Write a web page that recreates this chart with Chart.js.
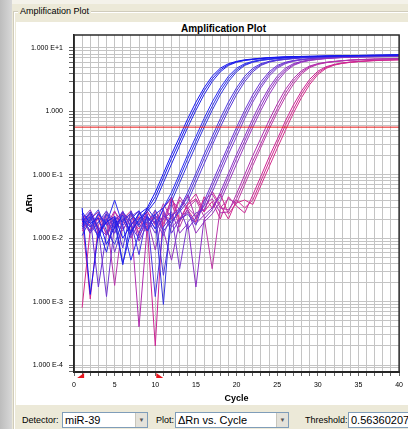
<!DOCTYPE html>
<html><head><meta charset="utf-8">
<script src="https://cdn.jsdelivr.net/npm/chart.js@4.4.1/dist/chart.umd.min.js"></script>
<style>
html,body{margin:0;padding:0;width:408px;height:429px;overflow:hidden;background:#ece9d8;font-family:'Liberation Sans',Arial,sans-serif;}
#leftstrip{position:absolute;left:0;top:0;width:12px;height:429px;background:linear-gradient(to right,#bdbdbd,#d8d8d8);}
#topband{position:absolute;left:12px;top:0;width:396px;height:4px;background:#f4f2ea;}
#group{position:absolute;left:13px;top:11px;width:420px;height:430px;border-top:1px solid #d0ccbc;border-left:1px solid #d0ccbc;box-shadow:inset 1px 1px 0 #fff;}
#grouplabel{position:absolute;left:18px;top:5px;padding:0 2px;background:#ece9d8;font-size:9px;line-height:12px;color:#000;}
#panel{position:absolute;left:16px;top:22px;width:392px;height:383px;background:#fff;}
#title{position:absolute;left:16px;width:415px;top:23px;text-align:center;font-weight:bold;font-size:10px;line-height:12px;color:#000;}
#chart{position:absolute;left:16px;top:22px;}
.lbl{position:absolute;top:414px;font-size:9px;line-height:12px;color:#000;}
.combo{position:absolute;top:412px;height:16px;box-sizing:border-box;border:1px solid #7f9db9;background:#fff;font-size:11px;line-height:14px;padding-left:2px;color:#000;overflow:hidden;white-space:nowrap;}
.btn{position:absolute;right:0;top:0;width:11px;height:14px;background:#e4e2da;border-left:1px solid #c8c6bc;font-size:6px;line-height:14px;text-align:center;color:#555;}
</style>
</head><body>
<div id="leftstrip"></div>
<div id="topband"></div>
<div id="group"></div>
<div id="grouplabel">Amplification Plot</div>
<div id="panel"></div>
<div id="title">Amplification Plot</div>
<canvas id="chart" width="392" height="382" style="width:392px;height:382px"></canvas>
<div class="lbl" style="left:22px">Detector:</div>
<div class="combo" style="left:62px;width:86px">miR-39<div class="btn">▼</div></div>
<div class="lbl" style="left:156px">Plot:</div>
<div class="combo" style="left:175px;width:114px">ΔRn vs. Cycle<div class="btn">▼</div></div>
<div class="lbl" style="left:305px">Threshold:</div>
<div class="combo" style="left:348px;width:70px">0.56360207</div>
<script>
// ---- data ----
const cycles = [1,2,3,4,5,6,7,8,9,10,11,12,13,14,15,16,17,18,19,20,21,22,23,24,25,26,27,28,29,30,31,32,33,34,35,36,37,38,39,40];
const threshold = 0.56360207;
const baselineStart = 1;
const baselineEnd = 10;
const xTickLabels = ['0','5','10','15','20','25','30','35','40'];
const yDecades = [1e-4, 1e-3, 1e-2, 1e-1, 1, 10];
const yTickLabels = ['1.000 E-4','1.000 E-3','1.000 E-2','1.000 E-1','1.000','1.000 E+1'];

const w01 = [0.030,0.0013,0.012,0.018,0.022,0.010,0.016,0.024,0.030,0.053,0.105,0.21,0.40,0.77,1.40,2.35,3.58,4.8,5.65,6.15,6.5,6.7,6.9,7.05,7.15,7.25,7.3,7.35,7.38,7.42,7.48,7.52,7.56,7.59,7.62,7.66,7.7,7.72,7.76,7.8];
const w02 = [0.018,0.026,0.014,0.006,0.021,0.004,0.013,0.019,0.026,0.038,0.075,0.148,0.29,0.56,1.04,1.83,2.94,4.2,5.3,5.95,6.35,6.6,6.8,7.0,7.1,7.2,7.3,7.33,7.37,7.4,7.45,7.5,7.53,7.56,7.6,7.63,7.67,7.7,7.73,7.76];
const w15 = [0.026,0.017,0.021,0.008,0.015,0.023,0.012,0.020,0.028,0.045,0.09,0.18,0.34,0.66,1.2,2.1,3.25,4.5,5.45,6.05,6.4,6.6,6.8,6.95,7.05,7.15,7.22,7.28,7.33,7.37,7.42,7.46,7.5,7.53,7.56,7.6,7.63,7.66,7.7,7.73];
const w03 = [0.020,0.015,0.024,0.017,0.040,0.016,0.0045,0.012,0.022,0.014,0.030,0.053,0.105,0.21,0.40,0.77,1.40,2.35,3.58,4.8,5.65,6.15,6.5,6.7,6.9,7.05,7.15,7.25,7.3,7.35,7.38,7.42,7.47,7.5,7.54,7.57,7.6,7.63,7.66,7.7];
const w04 = [0.011,0.020,0.028,0.013,0.008,0.019,0.025,0.016,0.030,0.020,0.0009,0.038,0.075,0.148,0.29,0.56,1.04,1.83,2.94,4.2,5.3,5.95,6.35,6.6,6.8,7.0,7.1,7.2,7.3,7.33,7.37,7.4,7.45,7.5,7.52,7.55,7.58,7.6,7.63,7.66];
const w16 = [0.015,0.022,0.010,0.024,0.018,0.0038,0.020,0.027,0.013,0.024,0.030,0.045,0.09,0.18,0.34,0.66,1.2,2.1,3.25,4.5,5.45,6.05,6.4,6.6,6.8,6.95,7.05,7.15,7.22,7.28,7.33,7.37,7.42,7.46,7.5,7.53,7.56,7.6,7.62,7.65];
const w05 = [0.016,0.023,0.010,0.020,0.012,0.026,0.018,0.0055,0.024,0.0012,0.015,0.022,0.030,0.053,0.105,0.21,0.40,0.77,1.40,2.35,3.58,4.8,5.65,6.15,6.5,6.7,6.9,7.05,7.15,7.25,7.3,7.35,7.38,7.42,7.46,7.5,7.53,7.56,7.6,7.63];
const w06 = [0.024,0.012,0.018,0.027,0.014,0.020,0.011,0.025,0.017,0.028,0.013,0.019,0.026,0.038,0.075,0.148,0.29,0.56,1.04,1.83,2.94,4.2,5.3,5.95,6.35,6.6,6.8,7.0,7.1,7.2,7.3,7.33,7.37,7.4,7.45,7.48,7.52,7.55,7.58,7.6];
const w17 = [0.021,0.013,0.025,0.016,0.020,0.007,0.027,0.015,0.019,0.024,0.0026,0.017,0.028,0.045,0.09,0.18,0.34,0.66,1.2,2.1,3.25,4.5,5.45,6.05,6.4,6.6,6.8,6.95,7.05,7.15,7.22,7.28,7.33,7.37,7.42,7.46,7.5,7.53,7.56,7.6];
const w07 = [0.014,0.021,0.0017,0.012,0.019,0.026,0.015,0.010,0.022,0.017,0.028,0.012,0.020,0.024,0.016,0.038,0.075,0.148,0.29,0.56,1.04,1.83,2.94,4.2,5.3,5.95,6.35,6.6,6.8,7.0,7.1,7.2,7.3,7.33,7.37,7.4,7.45,7.48,7.52,7.55];
const w08 = [0.020,0.013,0.018,0.024,0.006,0.016,0.022,0.027,0.013,0.019,0.011,0.024,0.0033,0.018,0.025,0.028,0.053,0.105,0.21,0.40,0.77,1.40,2.35,3.58,4.8,5.65,6.15,6.5,6.7,6.9,7.05,7.15,7.25,7.3,7.35,7.38,7.42,7.45,7.48,7.52];
const w18 = [0.018,0.024,0.014,0.0012,0.017,0.021,0.013,0.026,0.020,0.012,0.023,0.017,0.029,0.014,0.021,0.033,0.064,0.125,0.25,0.48,0.9,1.6,2.6,3.9,5.05,5.8,6.25,6.55,6.75,6.95,7.08,7.18,7.27,7.31,7.36,7.39,7.43,7.46,7.5,7.53];
const w09 = [0.017,0.025,0.012,0.020,0.015,0.027,0.010,0.018,0.023,0.014,0.020,0.026,0.012,0.017,0.0017,0.020,0.028,0.053,0.105,0.21,0.40,0.77,1.40,2.35,3.58,4.8,5.65,6.15,6.5,6.7,6.9,7.0,7.1,7.18,7.23,7.28,7.32,7.35,7.38,7.42];
const w10 = [0.022,0.016,0.011,0.026,0.019,0.013,0.024,0.017,0.021,0.0065,0.025,0.015,0.020,0.028,0.012,0.018,0.024,0.038,0.075,0.148,0.29,0.56,1.04,1.83,2.94,4.2,5.3,5.95,6.35,6.6,6.8,6.95,7.05,7.12,7.18,7.22,7.26,7.3,7.33,7.36];
const w19 = [0.020,0.028,0.015,0.011,0.022,0.018,0.025,0.009,0.016,0.021,0.013,0.0045,0.019,0.026,0.017,0.023,0.030,0.045,0.09,0.18,0.34,0.66,1.2,2.1,3.25,4.5,5.45,6.05,6.4,6.6,6.8,6.95,7.05,7.13,7.2,7.25,7.29,7.32,7.35,7.38];
const w11 = [0.019,0.012,0.023,0.016,0.027,0.014,0.020,0.0004,0.015,0.022,0.020,0.040,0.028,0.048,0.020,0.033,0.042,0.025,0.026,0.050,0.10,0.20,0.38,0.72,1.3,2.2,3.3,4.4,5.2,5.65,5.95,6.15,6.3,6.45,6.55,6.62,6.68,6.72,6.76,6.8];
const w12 = [0.013,0.020,0.026,0.011,0.018,0.024,0.016,0.021,0.012,0.027,0.017,0.036,0.015,0.030,0.040,0.022,0.0033,0.030,0.042,0.035,0.07,0.14,0.27,0.52,0.96,1.68,2.7,3.9,4.9,5.5,5.85,6.07,6.25,6.4,6.5,6.58,6.64,6.7,6.74,6.78];
const w20 = [0.016,0.025,0.013,0.021,0.0018,0.019,0.024,0.012,0.026,0.017,0.035,0.020,0.045,0.030,0.022,0.040,0.050,0.030,0.028,0.042,0.083,0.165,0.31,0.6,1.1,1.93,3.0,4.15,5.05,5.6,5.9,6.1,6.28,6.42,6.52,6.6,6.66,6.71,6.75,6.79];
const w13 = [0.024,0.015,0.020,0.012,0.026,0.018,0.013,0.022,0.016,0.0002,0.030,0.042,0.018,0.035,0.050,0.026,0.038,0.020,0.045,0.032,0.025,0.048,0.095,0.19,0.36,0.70,1.26,2.1,3.2,4.3,5.05,5.5,5.8,6.0,6.15,6.28,6.38,6.45,6.5,6.55];
const w14 = [0.0008,0.014,0.021,0.017,0.012,0.025,0.019,0.014,0.027,0.016,0.022,0.020,0.040,0.028,0.018,0.045,0.030,0.050,0.024,0.036,0.040,0.034,0.068,0.133,0.26,0.50,0.94,1.65,2.65,3.8,4.75,5.35,5.7,5.92,6.08,6.2,6.3,6.38,6.44,6.5];
const w21 = [0.021,0.0011,0.016,0.024,0.014,0.020,0.027,0.011,0.018,0.023,0.015,0.045,0.020,0.034,0.042,0.026,0.055,0.033,0.020,0.040,0.030,0.040,0.08,0.16,0.31,0.6,1.08,1.88,2.92,4.05,4.9,5.42,5.75,5.96,6.11,6.24,6.34,6.41,6.47,6.52];

const wells = [w01,w02,w15,w03,w04,w16,w05,w06,w17,w07,w08,w18,w09,w10,w19,w11,w12,w20,w13,w14,w21];
const wellColors = ['#1414f0','#2222e6','#1a1aee','#2a2cf2','#3434dc','#2e30e8','#4c34e0','#5a3ad6','#5236dc','#6a30d4','#7a3ccc','#7034d0','#8a2ec4','#9838be','#9030c2','#b02cae','#bc3aa6','#b632aa','#cc2494','#d42c8c','#d02890'];

// ---- grid values for the log axis (1..9 per decade) ----
const yMin = 7.76e-5, yMax = 16;
const yGridValues = [];
for (let e = -5; e <= 1; e++) for (let m = 1; m <= 9; m++) { const v = m * Math.pow(10, e); if (v >= yMin && v <= yMax) yGridValues.push(v); }

const FONT = "'Liberation Sans', Arial, sans-serif";

const datasets = [{
  label: 'Threshold',
  data: [{x: 0, y: threshold}, {x: 40, y: threshold}],
  borderColor: '#e81818', borderWidth: 1, pointRadius: 0, fill: false
}];
wells.forEach((vals, i) => {
  datasets.push({
    label: 'Well ' + (i + 1),
    data: cycles.map((c, k) => ({x: c, y: vals[k]})),
    borderColor: wellColors[i], borderWidth: 1, pointRadius: 0, fill: false, tension: 0, spanGaps: false
  });
});

const framePlugin = {
  id: 'frame',
  afterDatasetsDraw(chart) {
    const {ctx, chartArea: a, scales} = chart;
    const x = scales.x;
    ctx.save();
    ctx.strokeStyle = '#2a2a2a'; ctx.lineWidth = 1.5;
    ctx.strokeRect(a.left, a.top, a.right - a.left, a.bottom - a.top);
    ctx.fillStyle = '#e8141c';
    const xs = x.getPixelForValue(baselineStart) + 2;
    ctx.beginPath(); ctx.moveTo(xs, a.bottom + 1); ctx.lineTo(xs, a.bottom + 6); ctx.lineTo(xs - 7, a.bottom + 6); ctx.closePath(); ctx.fill();
    const xe = x.getPixelForValue(baselineEnd) + 1;
    ctx.beginPath(); ctx.moveTo(xe, a.bottom + 1); ctx.lineTo(xe, a.bottom + 6); ctx.lineTo(xe + 7, a.bottom + 6); ctx.closePath(); ctx.fill();
    ctx.restore();
  }
};

new Chart(document.getElementById('chart'), {
  type: 'line',
  data: {datasets},
  plugins: [framePlugin],
  options: {
    responsive: false, animation: false, devicePixelRatio: 1,
    layout: {padding: {left: 8, right: 3, top: 13, bottom: 0}},
    plugins: {legend: {display: false}, tooltip: {enabled: false}, title: {display: false}},
    scales: {
      x: {
        type: 'linear', min: 0, max: 40,
        afterFit(s) { s.height = 32; },
        ticks: {stepSize: 1, autoSkip: false, maxRotation: 0, padding: 5, color: '#000', font: {family: FONT, size: 7},
          callback: v => (v % 5 === 0 ? xTickLabels[v / 5] : '')},
        grid: {color: '#c4c4c4', lineWidth: 1, tickLength: 4, tickColor: '#666'},
        border: {color: '#1a1a1a', width: 2},
        title: {display: true, text: 'Cycle', color: '#000', font: {family: FONT, size: 9, weight: 'bold'}, padding: {top: 0, bottom: 0}}
      },
      y: {
        type: 'logarithmic', min: yMin, max: yMax,
        afterFit(s) { s.width = 50; },
        afterBuildTicks(s) { s.ticks = yGridValues.map(v => ({value: v})); },
        ticks: {autoSkip: false, padding: 6, color: '#000', font: {family: FONT, size: 7},
          callback: v => { const i = yDecades.findIndex(d => Math.abs(d - v) / d < 1e-6); return i >= 0 ? yTickLabels[i] : ''; }},
        grid: {color: '#c4c4c4', lineWidth: 1, tickLength: 5, tickColor: '#666'},
        border: {color: '#1a1a1a', width: 1.5},
        title: {display: true, text: 'ΔRn', color: '#000', font: {family: FONT, size: 9, weight: 'bold'}, padding: {top: 0, bottom: 0}}
      }
    }
  }
});
</script>
</body></html>
